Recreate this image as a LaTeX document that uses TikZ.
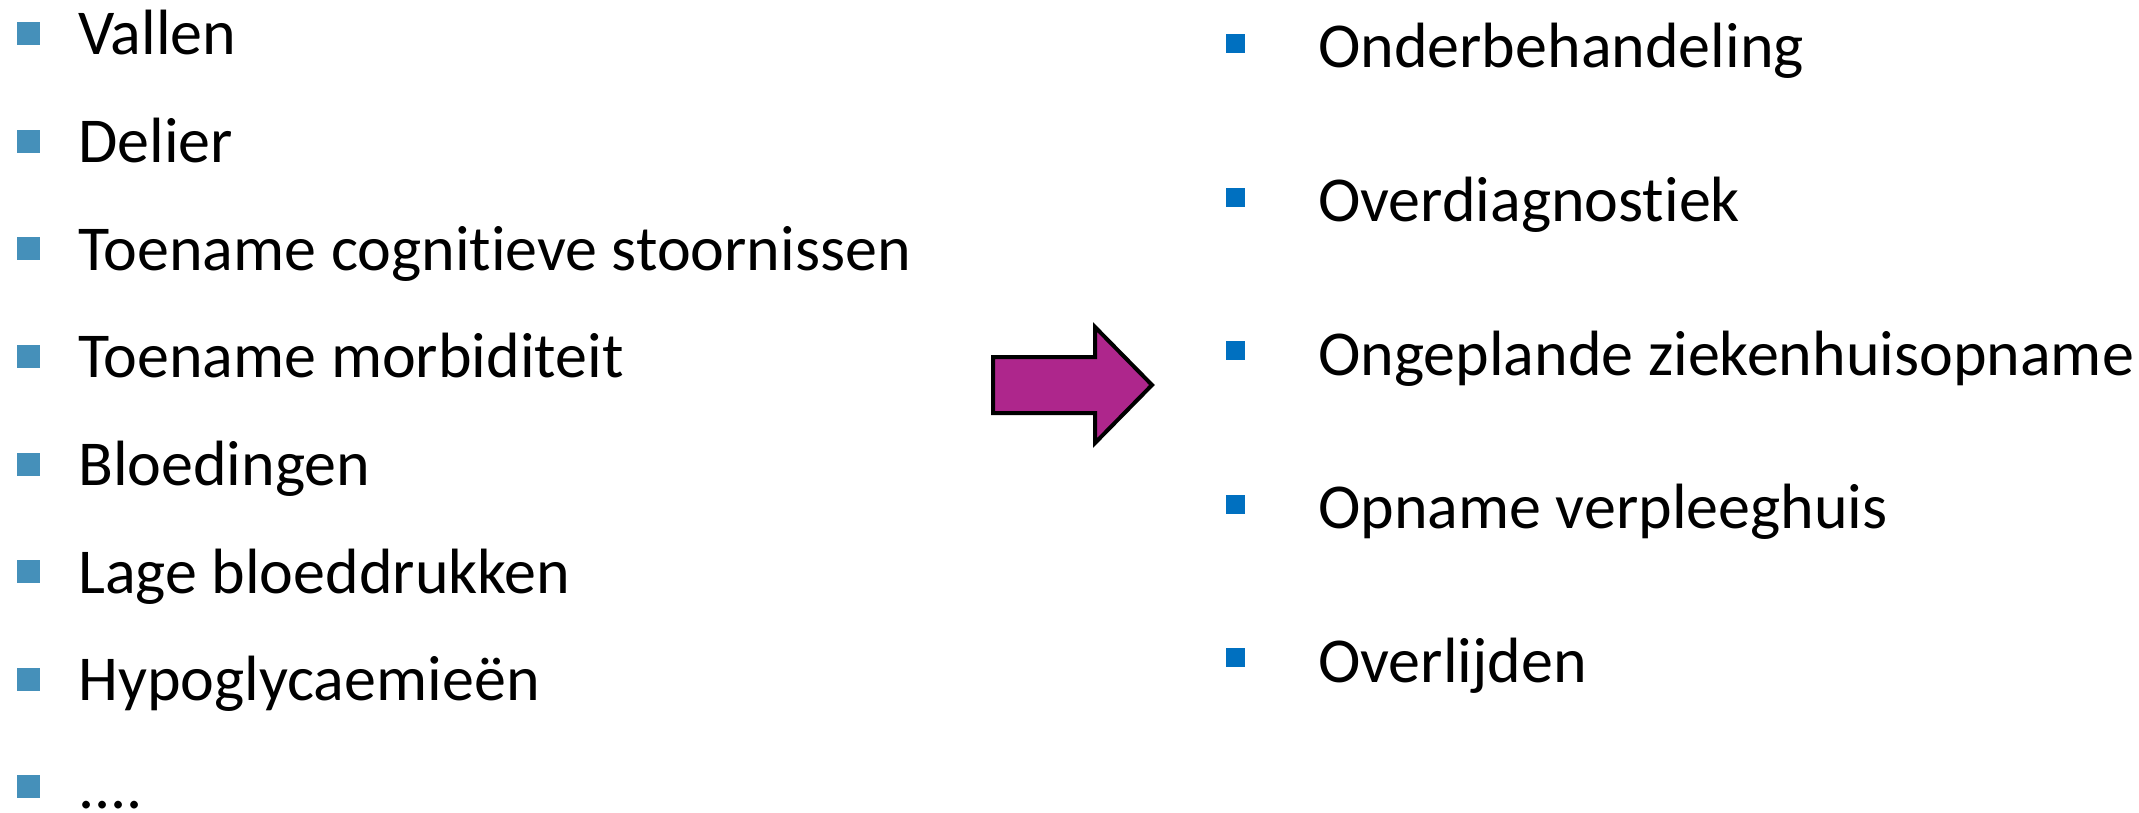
\documentclass[tikz,border=0pt]{standalone}
\usepackage{fontspec}
\setmainfont{Carlito}[Ligatures=NoCommon]
\definecolor{leftbullet}{HTML}{4590BA}
\definecolor{rightbullet}{HTML}{0070C0}
\definecolor{arrowfill}{HTML}{AE268C}
\begin{document}
\begin{tikzpicture}[x=1pt,y=-1pt,
  itemtext/.style={anchor=base west, inner sep=0pt, text depth=0pt, font=\fontsize{64}{76}\selectfont},
  lbullet/.style={fill=leftbullet, draw=none, minimum size=23pt, inner sep=0pt, anchor=north west},
  rbullet/.style={fill=rightbullet, draw=none, minimum size=19pt, inner sep=0pt, anchor=north west},
  bigarrow/.style={fill=arrowfill, draw=black, line width=4pt, line join=miter}]
\useasboundingbox (0,0) rectangle (2139,813);

% left column: consequences
\foreach \t [count=\i] in {{Vallen},{Delier},{Toename cognitieve stoornissen},{Toename morbiditeit},{Bloedingen},{Lage bloeddrukken},{Hypoglycaemieën},{{....}}}{
  \pgfmathsetmacro{\yb}{55+(\i-1)*107.6}
  \node[lbullet] (lb\i) at (17,\yb-33) {};
  \node[itemtext] (lt\i) at (78,\yb) {\t};
}

% block arrow in the middle
\draw[bigarrow] (993,357) -- (1095,357) -- (1095,327) -- (1152,385)
  -- (1095,443) -- (1095,413) -- (993,413) -- cycle;

% right column: outcomes
\foreach \t [count=\i] in {{Onderbehandeling},{Overdiagnostiek},{Ongeplande ziekenhuisopname},{Opname verpleeghuis},{Overlijden}}{
  \pgfmathsetmacro{\yb}{68+(\i-1)*153.5}
  \node[rbullet] (rb\i) at (1226,\yb-34) {};
  \node[itemtext] (rt\i) at (1318,\yb) {\t};
}
\end{tikzpicture}
\end{document}
